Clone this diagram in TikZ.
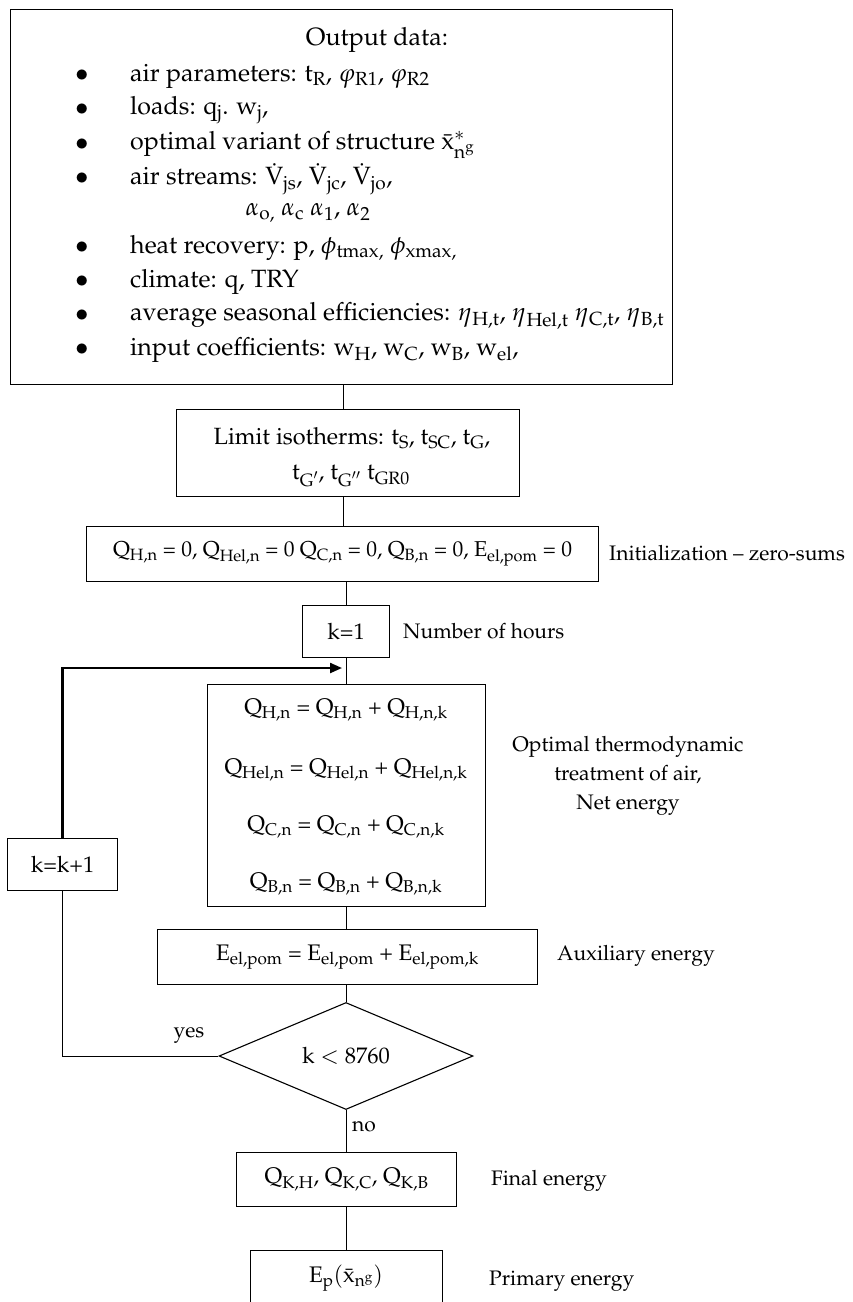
\documentclass[tikz,border=0pt]{standalone}
\usepackage[T1]{fontenc}
\usepackage{mathpazo}
\usetikzlibrary{positioning,shapes.geometric,arrows.meta}

\newcommand{\lo}[1]{\textsubscript{#1}}
\newcommand{\xbar}{\bar{\mathrm{x}}}

\tikzset{
	box/.style={draw, line width=1.1pt, rectangle, inner sep=0pt, anchor=north west, font=\fontsize{22.5}{27}\selectfont},
	txt/.style={inner sep=0pt, font=\fontsize{21}{29}\selectfont},
	big/.style={inner sep=0pt, font=\fontsize{25}{30}\selectfont},
	link/.style={line width=0.8pt},
}

\begin{document}
\begin{tikzpicture}[x=1pt,y=-1pt]
	\useasboundingbox (0,0) rectangle (852,1302);

	% input block
	\node[box, minimum width=662pt, minimum height=375pt] (topbox) at (10,9) {};
	\node[big] (head) at (377,40) {Output data:};
	\foreach \y/\t [count=\i] in {
		76/{air parameters: t\lo{R}, $\varphi$\lo{R1}, $\varphi$\lo{R2}},
		110/{loads: q\lo{j}. w\lo{j},},
		145/{optimal variant of structure $\xbar^{*}_{\mathrm{n}^{\mathrm{g}}}$},
		179/{air streams: $\dot{\mathrm{V}}_{\mathrm{js}}$, $\dot{\mathrm{V}}_{\mathrm{jc}}$, $\dot{\mathrm{V}}_{\mathrm{jo}}$,},
		248/{heat recovery: p, $\phi$\lo{tmax,} $\phi$\lo{xmax,}},
		282/{climate: q, TRY},
		316/{average seasonal efficiencies: $\eta$\lo{H,t}, $\eta$\lo{Hel,t} $\eta$\lo{C,t}, $\eta$\lo{B,t}},
		350/{input coefficients: w\lo{H}, w\lo{C}, w\lo{B}, w\lo{el},}}
	{
		\node[big] (dot\i) at (82,\y) {$\bullet$};
		\node[big, anchor=west] (item\i) at (130,\y) {\t};
	}
	\node[big] (alphas) at (308,213) {$\alpha$\lo{o,} $\alpha$\lo{c} $\alpha$\lo{1}, $\alpha$\lo{2}};

	% limit isotherms
	\node[box, minimum width=343pt, minimum height=87pt] (limit) at (176,409) {};
	\node[txt, font=\fontsize{23.5}{28}\selectfont] (lim1) at (352,438) {Limit isotherms: t\lo{S}, t\lo{SC}, t\lo{G},};
	\node[txt, font=\fontsize{23.5}{28}\selectfont] (lim2) at (351,476) {t\lo{G$'$}, t\lo{G$''$} t\lo{GR0}};

	% zero sums
	\node[box, font=\fontsize{21.5}{26}\selectfont, minimum width=512pt, minimum height=55pt] (init) at (86,526)
		{Q\lo{H,n} = 0, Q\lo{Hel,n} = 0 Q\lo{C,n} = 0, Q\lo{B,n} = 0, E\lo{el,pom} = 0};
	\node[txt, anchor=west] (initlbl) at (609,553) {Initialization -- zero-sums};

	% hour counter
	\node[box, minimum width=87pt, minimum height=52pt] (kone) at (302,605) {k=1};
	\node[txt, anchor=west] (hourlbl) at (403,631) {Number of hours};

	% hourly sums
	\node[box, minimum width=278pt, minimum height=222pt] (loop) at (207,684) {};
	\foreach \y/\t [count=\i] in {
		710/{Q\lo{H,n} = Q\lo{H,n} + Q\lo{H,n,k}},
		770/{Q\lo{Hel,n} = Q\lo{Hel,n} + Q\lo{Hel,n,k}},
		827/{Q\lo{C,n} = Q\lo{C,n} + Q\lo{C,n,k}},
		884/{Q\lo{B,n} = Q\lo{B,n} + Q\lo{B,n,k}}}
	{
		\node[txt, font=\fontsize{22.5}{27}\selectfont] (sum\i) at (346,\y) {\t};
	}
	\node[txt, align=center] (looplbl) at (628,776) {Optimal thermodynamic\\treatment of air,\\Net energy};

	\node[box, minimum width=110pt, minimum height=52pt] (knext) at (7,838) {k=k+1};

	% auxiliary
	\node[box, minimum width=380pt, minimum height=55pt] (aux) at (157,929)
		{E\lo{el,pom} = E\lo{el,pom} + E\lo{el,pom,k}};
	\node[txt, anchor=west] (auxlbl) at (557,956) {Auxiliary energy};

	% test
	\node[diamond, draw, line width=1.1pt, inner sep=0pt, aspect=2.37,
		minimum width=254pt, minimum height=107pt, txt, font=\fontsize{22.5}{27}\selectfont] (cond) at (346,1056) {k $<$ 8760};
	\node[txt] (yes) at (189,1035) {yes};
	\node[txt] (no) at (364,1127) {no};

	% results
	\node[box, minimum width=220pt, minimum height=54pt] (final) at (236,1152)
		{Q\lo{K,H}, Q\lo{K,C}, Q\lo{K,B}};
	\node[txt, anchor=west] (finallbl) at (491,1181) {Final energy};
	\node[box, minimum width=192pt, minimum height=80pt] (prim) at (250,1250) {};
	\node[txt, font=\fontsize{22.5}{27}\selectfont] (primtxt) at (346,1278) {$\mathrm{E}_{\mathrm{p}}(\xbar_{\mathrm{n}^{\mathrm{g}}})$};
	\node[txt, anchor=west] (primlbl) at (489,1281) {Primary energy};

	% connectors
	\coordinate (axis) at (343,0);
	\draw[link] (topbox.south -| axis) -- (limit.north -| axis);
	\draw[link] (limit.south -| axis) -- (init.north -| axis);
	\draw[link] (init.south -| kone.north) -- (kone.north);
	\draw[link] (kone.south) -- (loop.north -| kone.south);
	\draw[link] (loop.south) -- (aux.north -| loop.south);
	\draw[link] (aux.south -| cond.north) -- (cond.north);
	\draw[link] (cond.south) -- (final.north -| cond.south);
	\draw[link] (final.south -| prim.north) -- (prim.north);
	\coordinate (back) at (342,668);
	\draw[line width=2.2pt, -{Triangle[length=12pt,width=10pt]}] (knext.north) |- (back);
	\draw[link] (cond.west) -| (knext.south);
\end{tikzpicture}
\end{document}
